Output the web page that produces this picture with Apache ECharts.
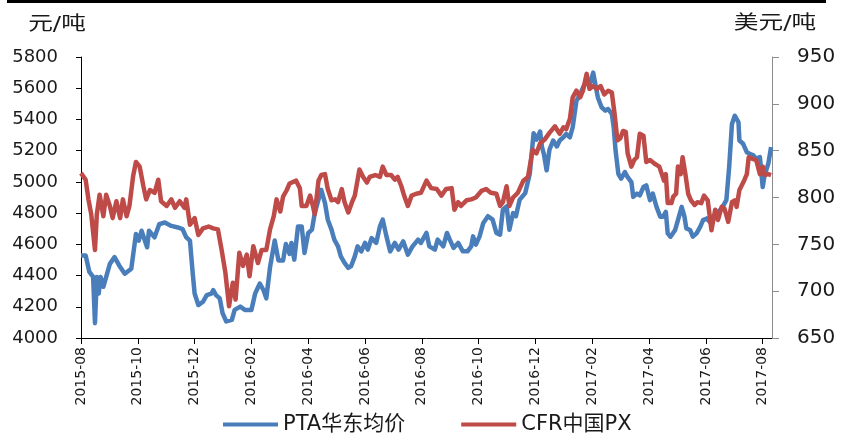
<!DOCTYPE html>
<html>
<head>
<meta charset="utf-8">
<script src="https://cdn.jsdelivr.net/npm/echarts@6/dist/echarts.min.js"></script>
<style>
  html, body { margin: 0; padding: 0; background: #fff; }
  #main { width: 856px; height: 435px; }
</style>
</head>
<body>
<div id="main"></div>
<script>
// x = days counted from 2015-08-01, ticks every 61 days (two months)
var xLabels = ['2015-08', '2015-10', '2015-12', '2016-02', '2016-04', '2016-06', '2016-08',
  '2016-10', '2016-12', '2017-02', '2017-04', '2017-06', '2017-08']

// PTA华东均价 (元/吨, left axis)
var ptaDays = [0, 5, 9, 13, 15, 17, 19, 21, 24, 31, 36, 41, 47, 54, 59, 62, 65, 71, 73, 79, 84, 90, 97, 104, 109, 113,
  117, 120, 122, 126, 131, 135, 140, 142, 145, 149, 152, 156, 162, 165, 171, 176, 183, 187, 192, 196, 199, 203, 208, 212, 217, 220, 224,
  226, 229, 233, 237, 240, 244, 248, 251, 255, 258, 262, 265, 269, 272, 276, 279, 283, 287, 290, 294, 297, 301, 305, 308, 312, 317,
  321, 324, 328, 332, 337, 341, 346, 351, 356, 362, 365, 371, 374, 380, 383, 389, 393, 396, 400, 405, 410, 415, 419, 421, 424, 428,
  432, 437, 442, 446, 450, 453, 457, 460, 464, 467, 471, 477, 482, 486, 489, 493, 495, 497, 500, 503, 507, 511, 514, 518, 521, 525,
  528, 532, 536, 539, 543, 546, 550, 552, 555, 559, 563, 566, 570, 572, 574, 577, 580, 584, 587, 591, 593, 597, 600, 604, 607, 611,
  614, 618, 622, 625, 628, 630, 633, 638, 641, 645, 648, 650, 654, 657, 661, 665, 668, 672, 675, 679, 682, 686, 689, 693, 696, 699,
  702, 706, 707, 711, 715, 718, 722, 725, 729, 732, 734, 738, 741]
var ptaValues = [4528, 4528, 4423, 4391, 4095, 4391, 4285, 4391, 4328, 4475, 4518, 4465, 4412, 4444, 4666, 4624, 4687, 4581, 4687, 4645, 4729, 4740, 4718, 4708, 4698, 4645,
  4624, 4412, 4285, 4211, 4232, 4275, 4285, 4306, 4275, 4254, 4159, 4106, 4116, 4180, 4201, 4180, 4180, 4285, 4349, 4306, 4254, 4454, 4624, 4497, 4497, 4602, 4539,
  4609, 4502, 4715, 4715, 4545, 4673, 4694, 4800, 4886, 4949, 4864, 4758, 4694, 4630, 4587, 4523, 4481, 4449, 4460, 4523, 4587, 4555, 4609, 4566, 4640, 4609,
  4715, 4758, 4651, 4555, 4609, 4566, 4619, 4534, 4587, 4630, 4609, 4673, 4587, 4566, 4630, 4587, 4673, 4630, 4577, 4609, 4555, 4555, 4587, 4651, 4598, 4651,
  4737, 4780, 4758, 4673, 4662, 4822, 4843, 4694, 4800, 4780, 4886, 4928, 5056, 5312, 5270, 5323, 5222, 5180, 5074, 5206, 5265, 5227, 5265, 5286, 5307, 5286,
  5350, 5519, 5562, 5604, 5647, 5615, 5700, 5636, 5541, 5478, 5456, 5467, 5435, 5350, 5202, 5052, 5021, 5063, 5031, 4999, 4904, 4925, 4914, 4967, 4978, 4883,
  4925, 4840, 4777, 4777, 4808, 4670, 4649, 4692, 4755, 4840, 4777, 4702, 4692, 4649, 4670, 4713, 4755, 4766, 4745, 4766, 4798, 4819, 4840, 4883, 5095, 5371,
  5424, 5382, 5265, 5244, 5190, 5180, 5170, 5148, 5159, 4967, 5042, 5116, 5222]

// CFR中国PX (美元/吨, right axis)
var pxDays = [0, 5, 8, 11, 15, 17, 20, 24, 27, 31, 34, 38, 42, 45, 49, 52, 56, 59, 63, 67, 70, 74, 79, 83, 86, 92, 97, 101, 106, 111,
  113, 117, 122, 126, 131, 137, 142, 147, 151, 155, 159, 163, 166, 170, 174, 178, 181, 185, 190, 194, 199, 203, 207, 210, 214, 217, 221, 224,
  226, 231, 235, 237, 242, 246, 249, 251, 255, 258, 262, 265, 269, 273, 276, 280, 283, 287, 291, 294, 299, 303, 307, 310, 316, 321,
  324, 328, 333, 337, 340, 344, 347, 351, 355, 360, 365, 371, 376, 382, 387, 392, 398, 401, 405, 408, 414, 419, 424, 430, 435, 440,
  446, 450, 453, 457, 460, 464, 469, 475, 480, 485, 489, 493, 498, 503, 509, 512, 514, 518, 521, 525, 528, 532, 536, 539, 543, 546,
  550, 554, 558, 562, 566, 570, 573, 576, 579, 582, 585, 587, 591, 594, 597, 600, 604, 607, 611, 616, 621, 626, 628, 630, 634, 636,
  639, 641, 644, 646, 649, 652, 655, 659, 662, 666, 669, 673, 677, 681, 684, 688, 691, 695, 699, 702, 704, 707, 709, 712, 715, 717,
  722, 725, 729, 732, 734, 738, 741]
var pxValues = [826, 819, 798, 782, 744, 782, 803, 780, 803, 791, 778, 796, 778, 798, 780, 791, 823, 838, 833, 812, 798, 808, 805, 819, 796, 791, 798, 789, 796, 789,
  798, 771, 778, 760, 767, 769, 767, 766, 744, 720, 684, 709, 691, 741, 727, 739, 716, 748, 730, 744, 744, 766, 780, 798, 785, 801, 808, 815,
  817, 818, 810, 791, 791, 802, 791, 782, 818, 824, 825, 809, 797, 798, 795, 809, 795, 784, 795, 802, 830, 822, 816, 822, 824, 822,
  833, 824, 824, 819, 822, 812, 802, 791, 802, 804, 805, 818, 810, 809, 802, 809, 810, 787, 795, 791, 797, 798, 800, 807, 809, 805,
  804, 791, 795, 812, 791, 800, 805, 818, 822, 851, 847, 858, 862, 869, 876, 871, 868, 875, 873, 884, 907, 914, 907, 914, 932, 916,
  919, 916, 919, 910, 914, 912, 889, 861, 863, 871, 870, 847, 833, 840, 843, 868, 866, 838, 840, 836, 833, 818, 825, 794, 794, 801,
  804, 833, 825, 843, 825, 804, 797, 792, 795, 794, 802, 797, 765, 787, 776, 790, 788, 774, 795, 797, 790, 808, 808, 818, 825, 843,
  841, 840, 825, 833, 824, 825, 824]

function pairs(xs, ys) {
  var out = []
  for (var i = 0; i < xs.length; i++) {
    out.push([xs[i], ys[i]])
  }
  return out
}

var font = 'DejaVu Sans, "Noto Sans CJK SC", sans-serif'
var textColor = '#1a1a1a'

var myChart = echarts.init(document.getElementById('main'))
var option = {
  animation: false,
  color: ['#4A7EBB', '#BE4B48'],
  textStyle: { fontFamily: font },
  grid: {
    left: 81,
    right: 84,
    top: 57,
    bottom: 97,
    containLabel: false
  },
  legend: {
    left: 218,
    top: 409,
    icon: 'rect',
    itemWidth: 55,
    itemHeight: 4,
    itemGap: 56,
    textStyle: { fontSize: 21, color: textColor, fontFamily: font },
    data: ['PTA华东均价', 'CFR中国PX']
  },
  graphic: [
    { type: 'rect', left: 7, top: 0, shape: { width: 819, height: 3 }, style: { fill: '#000' } },
    { type: 'text', x: 57, y: 25, scaleX: 1.3,
      style: { text: '元/吨', fontSize: 19, fontFamily: font, fill: textColor, align: 'center', verticalAlign: 'middle' } },
    { type: 'text', x: 775, y: 24, scaleX: 1.3,
      style: { text: '美元/吨', fontSize: 19, fontFamily: font, fill: textColor, align: 'center', verticalAlign: 'middle' } }
  ],
  xAxis: {
    type: 'value',
    min: 0,
    max: 742,
    interval: 61,
    splitLine: { show: false },
    axisLine: { lineStyle: { color: '#000', width: 1 } },
    axisTick: { length: 6, lineStyle: { color: '#000' } },
    axisLabel: {
      rotate: 90,
      margin: 9,
      fontSize: 14,
      color: textColor,
      fontFamily: font,
      showMaxLabel: false,
      formatter: function (v) {
        if (v % 61 !== 0) return ''
        return xLabels[v / 61] || ''
      }
    }
  },
  yAxis: [
    {
      type: 'value',
      min: 4000,
      max: 5800,
      interval: 200,
      splitLine: { show: false },
      axisLine: { show: true, lineStyle: { color: '#000', width: 1 } },
      axisTick: { show: true, length: 5, lineStyle: { color: '#000' } },
      axisLabel: { margin: 23, fontSize: 18, color: textColor, fontFamily: font, formatter: function (v) { return String(v) } }
    },
    {
      type: 'value',
      min: 650,
      max: 950,
      interval: 50,
      position: 'right',
      splitLine: { show: false },
      axisLine: { show: true, lineStyle: { color: '#8c8c8c', width: 1 } },
      axisTick: { show: true, length: 7, lineStyle: { color: '#8c8c8c' } },
      axisLabel: { margin: 25, fontSize: 20, color: textColor, fontFamily: font }
    }
  ],
  series: [
    {
      name: 'PTA华东均价',
      type: 'line',
      yAxisIndex: 0,
      symbol: 'none',
      lineStyle: { width: 4.5, color: '#4A7EBB', join: 'round' },
      data: pairs(ptaDays, ptaValues)
    },
    {
      name: 'CFR中国PX',
      type: 'line',
      yAxisIndex: 1,
      symbol: 'none',
      lineStyle: { width: 4.5, color: '#BE4B48', join: 'round' },
      data: pairs(pxDays, pxValues)
    }
  ]
}
option && myChart.setOption(option)
</script>
</body>
</html>
